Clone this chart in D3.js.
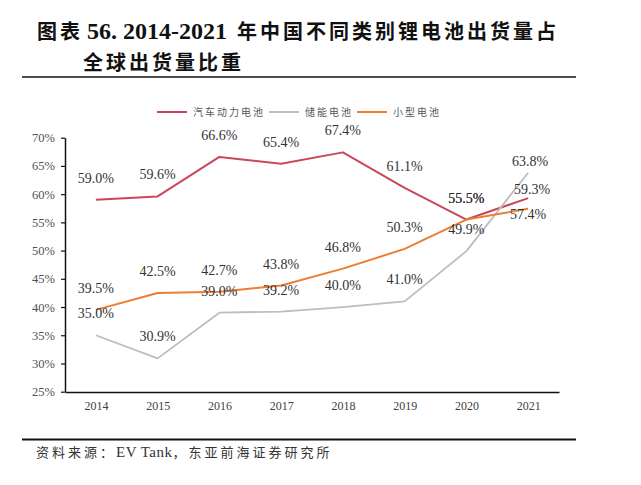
<!DOCTYPE html>
<html>
<head>
<meta charset="utf-8">
<script src="https://cdn.jsdelivr.net/npm/d3@7"></script>
<style>
    body { margin: 0; background: #fff; }
    svg { display: block; }
</style>
</head>
<body>
<div id="chart"></div>
<script>
// data
const years = ["2014", "2015", "2016", "2017", "2018", "2019", "2020", "2021"];
const powerShare = [59.0, 59.6, 66.6, 65.4, 67.4, 61.1, 55.5, 59.3];
const storageShare = [35.0, 30.9, 39.0, 39.2, 40.0, 41.0, 49.9, 63.8];
const smallShare = [39.5, 42.5, 42.7, 43.8, 46.8, 50.3, 55.5, 57.4];
const seriesNames = ["汽车动力电池", "储能电池", "小型电池"];
const yTicks = [25, 30, 35, 40, 45, 50, 55, 60, 65, 70];

const cjk = "'Noto Sans CJK SC', sans-serif";
const serif = "'Liberation Serif', 'Times New Roman', serif";

const series = [
    {name: seriesNames[0], values: powerShare, color: "#c8475a", width: 2},
    {name: seriesNames[1], values: storageShare, color: "#bdbdbd", width: 1.8},
    {name: seriesNames[2], values: smallShare, color: "#ed7d31", width: 2}
];

// the last labels are nudged in the original to avoid overlap
const lastLabelShift = [{dx: 4, dy: 13}, {dx: 2, dy: 10}, {dx: 0, dy: 27}];

const svg = d3.select("#chart")
    .append("svg")
    .attr("width", 641)
    .attr("height", 485);

// title
const title = svg.append("text")
    .attr("x", 37)
    .attr("y", 39)
    .attr("fill", "#111")
    .style("font-family", cjk)
    .style("font-weight", 700)
    .style("font-size", "20px")
    .style("letter-spacing", "3px");
title.append("tspan").text("图表");
title.append("tspan")
    .attr("x", 87)
    .style("font-family", serif)
    .style("font-size", "24px")
    .style("letter-spacing", "0px")
    .text("56. 2014-2021");
title.append("tspan")
    .attr("x", 237)
    .text("年中国不同类别锂电池出货量占");

svg.append("text")
    .attr("x", 83)
    .attr("y", 70)
    .attr("fill", "#111")
    .style("font-family", cjk)
    .style("font-weight", 700)
    .style("font-size", "20px")
    .style("letter-spacing", "3px")
    .text("全球出货量比重");

// rules above and below the chart
svg.append("line")
    .attr("x1", 22).attr("x2", 576)
    .attr("y1", 77).attr("y2", 77)
    .attr("stroke", "#111").attr("stroke-width", 1.5);
svg.append("line")
    .attr("x1", 22).attr("x2", 576)
    .attr("y1", 439.5).attr("y2", 439.5)
    .attr("stroke", "#111").attr("stroke-width", 2);

// source
const src = svg.append("text")
    .attr("x", 36)
    .attr("y", 457)
    .attr("fill", "#333")
    .style("font-family", cjk)
    .style("font-size", "13px")
    .style("letter-spacing", "3px");
src.append("tspan").text("资料来源：");
src.append("tspan")
    .style("font-family", serif)
    .style("font-size", "15px")
    .style("letter-spacing", "0.5px")
    .text("EV Tank");
src.append("tspan").text("，东亚前海证券研究所");

// scales
const x = d3.scalePoint()
    .domain(years)
    .range([65, 559])
    .padding(0.5);

const y = d3.scaleLinear()
    .domain([25, 70])
    .range([391.7, 137.7]);

// axes
const yAxis = svg.append("g")
    .attr("transform", "translate(65,0)")
    .call(d3.axisLeft(y)
        .tickValues(yTicks)
        .tickSize(4)
        .tickSizeOuter(0)
        .tickPadding(6)
        .tickFormat(d => d + "%"));
yAxis.select(".domain").attr("stroke", "#111").attr("stroke-width", 1.5);
yAxis.selectAll(".tick line").attr("stroke", "#111").attr("stroke-width", 1.2);
yAxis.selectAll(".tick text")
    .attr("fill", "#505050")
    .style("font-family", serif)
    .style("font-size", "12.5px");

const xAxis = svg.append("g")
    .attr("transform", "translate(0,392)")
    .call(d3.axisBottom(x)
        .tickSize(0)
        .tickSizeOuter(0)
        .tickPadding(9.5));
xAxis.select(".domain").attr("stroke", "#111").attr("stroke-width", 1.5);
xAxis.selectAll(".tick text")
    .attr("fill", "#404040")
    .style("font-family", serif)
    .style("font-size", "12px");

// lines
const line = d3.line()
    .x((d, i) => x(years[i]))
    .y(d => y(d));

svg.append("g")
    .selectAll("path")
    .data(series)
    .enter()
    .append("path")
    .attr("d", d => line(d.values))
    .attr("fill", "none")
    .attr("stroke", d => d.color)
    .attr("stroke-width", d => d.width)
    .attr("stroke-linejoin", "round");

// value labels
series.forEach(function (s, si) {
    svg.append("g")
        .selectAll("text")
        .data(s.values)
        .enter()
        .append("text")
        .attr("x", (d, i) => x(years[i]) + (i === years.length - 1 ? lastLabelShift[si].dx : 0))
        .attr("y", (d, i) => y(d) - 17 + (i === years.length - 1 ? lastLabelShift[si].dy : 0))
        .attr("text-anchor", "middle")
        .attr("fill", "#333")
        .style("font-family", serif)
        .style("font-size", "14px")
        .text(d => d.toFixed(1) + "%");
});

// legend
let lx = 157;
const legend = svg.append("g").attr("transform", "translate(0,112)");
series.forEach(function (s) {
    legend.append("line")
        .attr("x1", lx).attr("x2", lx + 30)
        .attr("y1", 0).attr("y2", 0)
        .attr("stroke", s.color)
        .attr("stroke-width", 2);
    const t = legend.append("text")
        .attr("x", lx + 36)
        .attr("y", 4)
        .attr("fill", "#595959")
        .style("font-family", cjk)
        .style("font-size", "10px")
        .style("letter-spacing", "2px")
        .text(s.name);
    lx += 36 + t.node().getComputedTextLength() + 4;
});
</script>
</body>
</html>
